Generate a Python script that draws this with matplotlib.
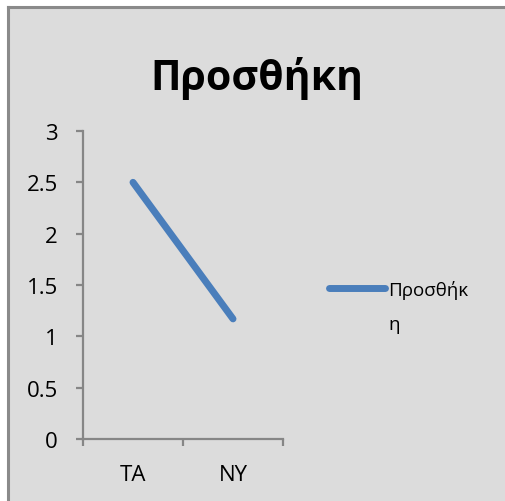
import matplotlib
matplotlib.use("Agg")
import matplotlib.pyplot as plt
from matplotlib.patches import Rectangle
from matplotlib.lines import Line2D

# data
categories = ["TA", "NY"]
values = [2.5, 1.17]
series_name = "Προσθήκη"
title = "Προσθήκη"
yticks = [0, 0.5, 1, 1.5, 2, 2.5, 3]
ytick_labels = ["0", "0.5", "1", "1.5", "2", "2.5", "3"]

plt.rcParams["font.family"] = ["Open Sans", "DejaVu Sans"]

W, H = 506, 502
fig = plt.figure(figsize=(W / 100, H / 100), dpi=100)
fig.patch.set_facecolor("white")

# light grey chart area, frame only on left and top (rest is cropped)
bg = Rectangle((8 / W, 0), 1, 1 - 8 / H, transform=fig.transFigure,
               facecolor="#dcdcdc", edgecolor="none", zorder=-5)
fig.patches.append(bg)
frame_col = "#8a8a8a"
fig.add_artist(Line2D([8 / W, 8 / W], [0, 1 - 8 / H], transform=fig.transFigure,
                      color=frame_col, linewidth=2.2))
fig.add_artist(Line2D([8 / W, 1], [1 - 8 / H, 1 - 8 / H], transform=fig.transFigure,
                      color=frame_col, linewidth=2.2))

ax = fig.add_axes([83 / W, 1 - 440 / H, (283 - 83) / W, (440 - 132) / H])
ax.set_facecolor("none")
ax.set_zorder(2)

x = [i + 0.5 for i in range(len(categories))]
line, = ax.plot(x, values, color="#4a7ebb", linewidth=5, solid_capstyle="round")

ax.set_xlim(0, len(categories))
ax.set_ylim(0, 3)
ax.set_yticks(yticks)
ax.set_yticklabels(ytick_labels)
ax.set_xticks(range(len(categories) + 1))
ax.set_xticklabels([])
ax.set_xticks(x, minor=True)
ax.set_xticklabels(categories, minor=True)

axis_col = "#868686"
for s in ["top", "right"]:
    ax.spines[s].set_visible(False)
for s in ["left", "bottom"]:
    ax.spines[s].set_color(axis_col)
    ax.spines[s].set_linewidth(1.6)
ax.tick_params(axis="y", length=5, width=1.6, color=axis_col, pad=13,
               labelsize=16, labelcolor="black")
ax.tick_params(axis="x", which="major", length=5, width=1.6, color=axis_col, direction="out")
ax.tick_params(axis="x", which="minor", length=0, pad=18, labelsize=16, labelcolor="black")

fig.text(257 / W, 1 - 90 / H, title, ha="center", va="baseline",
         fontsize=29.5, fontweight="bold", color="black")

fig.legend([line], ["Προσθήκ"], loc="center left",
           bbox_to_anchor=(329 / W, 1 - 290 / H), frameon=False,
           borderpad=0, borderaxespad=0, handlelength=3.0, handletextpad=0.17,
           fontsize=13.5)
fig.text(388 / W, 1 - 330 / H, "η", ha="left", va="baseline", fontsize=13.5)

fig.savefig("out.png", dpi=100)
